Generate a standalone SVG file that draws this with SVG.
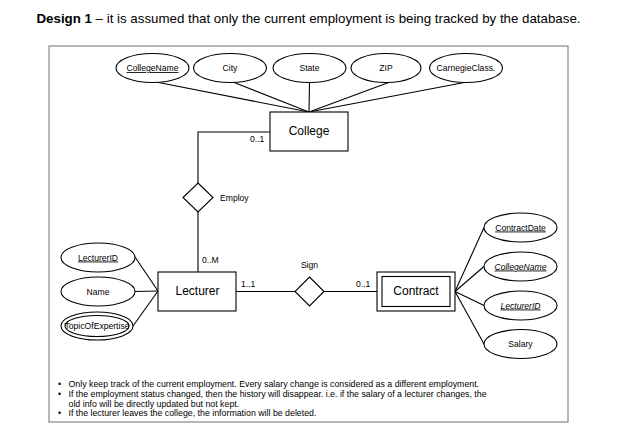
<svg xmlns="http://www.w3.org/2000/svg" width="629" height="438" viewBox="0 0 629 438">
<style>
text{font-family:"Liberation Sans",Arial,sans-serif;fill:#000}
.attr{font-size:8.6px;text-anchor:middle}
.ul{text-decoration:underline}
.it{font-style:italic}
.ent{font-size:12px;text-anchor:middle}
.card{font-size:8.6px}
.note{font-size:8.8px;fill:#222}
.shape{fill:#fff;stroke:#000;stroke-width:1.1}
.line{stroke:#000;stroke-width:1.1;fill:none}
</style>
<rect width="629" height="438" fill="#fff"/>
<text x="36.5" y="23" font-size="13.3"><tspan font-weight="bold">Design 1</tspan> – it is assumed that only the current employment is being tracked by the database.</text>
<rect x="49" y="46" width="519" height="376" fill="none" stroke="#888" stroke-width="1.2"/>

<g id="connectors" class="line">
  <line x1="156" y1="82" x2="309" y2="112"/>
  <line x1="233" y1="82" x2="309" y2="112"/>
  <line x1="309.5" y1="82.5" x2="309" y2="112"/>
  <line x1="390" y1="82" x2="309" y2="112"/>
  <line x1="467" y1="82" x2="309" y2="112"/>
  <polyline points="270,132 198,132 198,183"/>
  <line x1="198" y1="212" x2="198" y2="272"/>
  <line x1="135" y1="257" x2="158" y2="291"/>
  <line x1="135" y1="291.5" x2="158" y2="291"/>
  <line x1="133" y1="326" x2="158" y2="291"/>
  <line x1="236" y1="291.5" x2="295" y2="291.5"/>
  <line x1="324" y1="291.5" x2="377" y2="291.5"/>
  <line x1="455" y1="291.5" x2="484" y2="227.5"/>
  <line x1="455" y1="291.5" x2="484" y2="266.5"/>
  <line x1="455" y1="291.5" x2="484" y2="305.5"/>
  <line x1="455" y1="291.5" x2="484" y2="344"/>
</g>

<g id="attr-collegename"><ellipse class="shape" cx="152.5" cy="68" rx="36.5" ry="14.5"/><text class="attr ul" x="152.5" y="71">CollegeName</text></g>
<g id="attr-city"><ellipse class="shape" cx="230" cy="68" rx="36.5" ry="14.5"/><text class="attr" x="230" y="71">City</text></g>
<g id="attr-state"><ellipse class="shape" cx="309.5" cy="68" rx="36.5" ry="14.5"/><text class="attr" x="309.5" y="71">State</text></g>
<g id="attr-zip"><ellipse class="shape" cx="386" cy="68" rx="35" ry="14.5"/><text class="attr" x="386" y="71">ZIP</text></g>
<g id="attr-carnegie"><ellipse class="shape" cx="466" cy="68" rx="36.5" ry="14.5"/><text class="attr" x="466" y="71">CarnegieClass.</text></g>

<g id="college"><rect class="shape" x="270" y="112" width="78" height="39"/><text class="ent" x="309" y="134.5">College</text></g>
<g id="employ"><polygon class="shape" points="198,183 213,197.5 198,212 183,197.5"/><text class="attr" x="220" y="201" style="text-anchor:start">Employ</text></g>

<g id="lecturer"><rect class="shape" x="158" y="272" width="78" height="39"/><text class="ent" x="197.5" y="294.5">Lecturer</text></g>
<g id="attr-lecturerid"><ellipse class="shape" cx="98" cy="257.5" rx="37" ry="14.5"/><text class="attr ul" x="98" y="260.5">LecturerID</text></g>
<g id="attr-name"><ellipse class="shape" cx="98" cy="291.5" rx="37" ry="14.5"/><text class="attr" x="98" y="294.5">Name</text></g>
<g id="attr-topic"><ellipse class="shape" cx="97" cy="326" rx="36" ry="14"/><ellipse class="shape" cx="97" cy="326" rx="32" ry="10.5"/><text class="attr" x="97" y="329">TopicOfExpertise</text></g>

<g id="sign"><polygon class="shape" points="309.5,277 324,291.5 309.5,306 295,291.5"/><text class="attr" x="309.5" y="268">Sign</text></g>

<g id="contract"><rect class="shape" x="377" y="272" width="78" height="39"/><rect class="shape" x="382" y="276.5" width="68" height="30"/><text class="ent" x="416" y="294.5">Contract</text></g>
<g id="attr-contractdate"><ellipse class="shape" cx="520.5" cy="227.5" rx="36.5" ry="14.5"/><text class="attr ul" x="520.5" y="230.5">ContractDate</text></g>
<g id="attr-c-collegename"><ellipse class="shape" cx="520.5" cy="266.5" rx="36.5" ry="14.5"/><text class="attr ul it" x="520.5" y="269.5">CollegeName</text></g>
<g id="attr-c-lecturerid"><ellipse class="shape" cx="520.5" cy="305.5" rx="36.5" ry="14.5"/><text class="attr ul it" x="520.5" y="308.5">LecturerID</text></g>
<g id="attr-salary"><ellipse class="shape" cx="520.5" cy="344" rx="36.5" ry="14.5"/><text class="attr" x="520.5" y="347">Salary</text></g>

<g id="cardinalities" class="card">
  <text x="250" y="141.5">0..1</text>
  <text x="202" y="263">0..M</text>
  <text x="241" y="286.5">1..1</text>
  <text x="356" y="286.5">0..1</text>
</g>

<g id="notes" class="note">
  <text x="58" y="387">•</text><text x="68.5" y="387">Only keep track of the current employment. Every salary change is considered as a different employment.</text>
  <text x="58" y="397">•</text><text x="68.5" y="397">If the employment status changed, then the history will disappear. i.e. if the salary of a lecturer changes, the</text>
  <text x="68.5" y="406.5">old info will be directly updated but not kept.</text>
  <text x="58" y="416">•</text><text x="68.5" y="416">If the lecturer leaves the college, the information will be deleted.</text>
</g>
</svg>
